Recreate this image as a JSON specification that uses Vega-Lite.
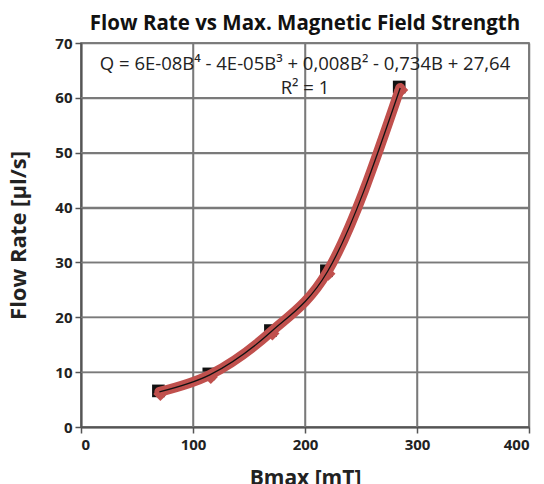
{
  "$schema": "https://vega.github.io/schema/vega-lite/v6.json",
  "width": 448,
  "height": 384,
  "autosize": "none",
  "padding": {"left": 81, "top": 43, "right": 15, "bottom": 57},
  "background": "white",
  "config": {
    "font": "Open Sans",
    "view": {"stroke": "#555555", "strokeWidth": 1.5},
    "axis": {
      "labelFont": "Open Sans", "labelFontWeight": "bold", "labelFontSize": 15, "labelColor": "#222222",
      "titleFont": "Open Sans", "titleFontWeight": "bold", "titleColor": "#222222",
      "domainColor": "#555555", "domainWidth": 2, "tickColor": "#555555", "tickWidth": 1.5, "tickSize": 6
    }
  },
  "title": {"text": "Flow Rate vs Max. Magnetic Field Strength", "font": "Open Sans", "fontWeight": "bold", "fontSize": 20.5, "color": "#111111", "offset": 2, "anchor": "middle"},
  "datasets": {
    "pts": [
      {"B": 70, "Q": 6.4},
      {"B": 115, "Q": 9.5},
      {"B": 170, "Q": 17.4},
      {"B": 220, "Q": 28.3},
      {"B": 285, "Q": 61.8}
    ],
    "xgrid": [{"g": 100}, {"g": 200}, {"g": 300}],
    "ygrid": [{"g": 10}, {"g": 20}, {"g": 30}, {"g": 40}, {"g": 50}, {"g": 60}],
    "labels": [
      {"B": 200, "Q": 66.2, "t": "Q = 6E-08B⁴ - 4E-05B³ + 0,008B² - 0,734B + 27,64"},
      {"B": 200, "Q": 61.8, "t": "R² = 1"}
    ]
  },
  "layer": [
    {
      "data": {"name": "pts"},
      "mark": {"type": "point", "shape": "square", "filled": true, "color": "#111111", "size": 160, "opacity": 1, "xOffset": -1, "yOffset": -1},
      "encoding": {
        "x": {"field": "B", "type": "quantitative", "scale": {"domain": [0, 400], "nice": false}, "axis": {"values": [0, 100, 200, 300, 400], "grid": true, "gridColor": "#7a7a7a", "gridWidth": 1.5, "gridOpacity": 1, "title": "Bmax [mT]", "titleFontSize": 21, "titlePadding": 15, "labelPadding": 4}},
        "y": {"field": "Q", "type": "quantitative", "scale": {"domain": [0, 70], "nice": false}, "axis": {"values": [0, 10, 20, 30, 40, 50, 60, 70], "grid": true, "gridColor": "#7a7a7a", "gridWidth": 1.5, "gridOpacity": 1, "title": "Flow Rate [µl/s]", "titleFontSize": 22, "titlePadding": 24, "labelPadding": 3}}
      }
    },
    {
      "data": {"name": "xgrid"},
      "mark": {"type": "rule", "stroke": "#7a7a7a", "strokeWidth": 1.5, "strokeOpacity": 1},
      "encoding": {
        "x": {"field": "g", "type": "quantitative"},
        "y": {"datum": 0, "type": "quantitative"},
        "y2": {"datum": 70}
      }
    },
    {
      "data": {"name": "ygrid"},
      "mark": {"type": "rule", "stroke": "#7a7a7a", "strokeWidth": 1.5, "strokeOpacity": 1},
      "encoding": {
        "y": {"field": "g", "type": "quantitative"},
        "x": {"datum": 0, "type": "quantitative"},
        "x2": {"datum": 400}
      }
    },
    {
      "data": {"name": "pts"},
      "mark": {"type": "line", "color": "#c0504d", "strokeWidth": 10, "interpolate": "monotone", "strokeCap": "round"},
      "encoding": {
        "x": {"field": "B", "type": "quantitative"},
        "y": {"field": "Q", "type": "quantitative"}
      }
    },
    {
      "data": {"name": "pts"},
      "mark": {"type": "point", "shape": "diamond", "filled": true, "color": "#c0504d", "size": 200, "opacity": 1, "xOffset": 1, "yOffset": 2},
      "encoding": {
        "x": {"field": "B", "type": "quantitative"},
        "y": {"field": "Q", "type": "quantitative"}
      }
    },
    {
      "data": {"name": "pts"},
      "mark": {"type": "line", "color": "#111111", "strokeWidth": 1.3, "interpolate": "monotone"},
      "encoding": {
        "x": {"field": "B", "type": "quantitative"},
        "y": {"field": "Q", "type": "quantitative"}
      }
    },
    {
      "data": {"name": "labels"},
      "mark": {"type": "text", "font": "Open Sans", "fontSize": 18.5, "color": "#222222", "align": "center", "baseline": "middle"},
      "encoding": {
        "x": {"field": "B", "type": "quantitative"},
        "y": {"field": "Q", "type": "quantitative"},
        "text": {"field": "t"}
      }
    }
  ]
}
